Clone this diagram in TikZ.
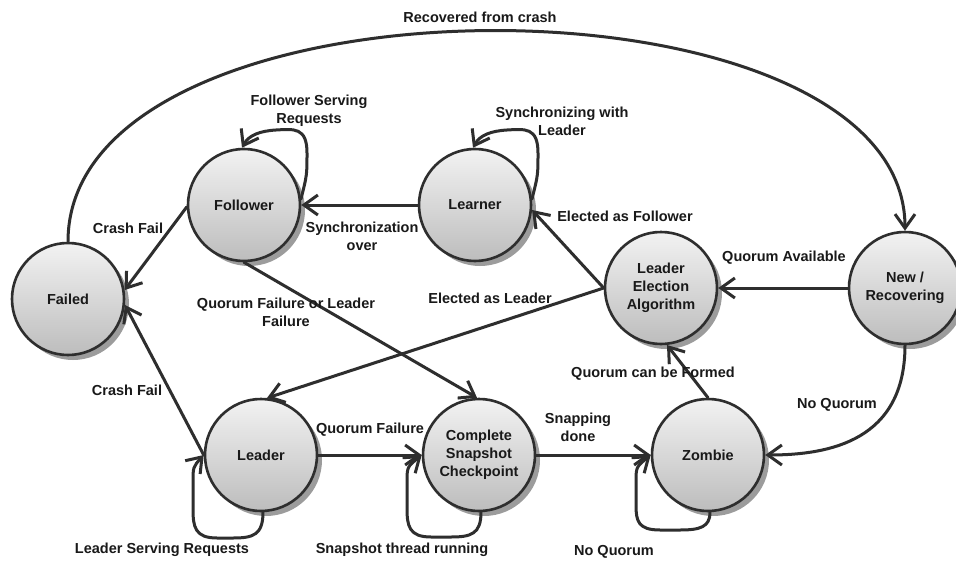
\documentclass[tikz,border=0pt]{standalone}
\usepackage{fontspec}
\setmainfont{Liberation Sans}
\usetikzlibrary{arrows.meta,shadows,calc}
\definecolor{ink}{HTML}{2E2E2E}
\definecolor{shadowgrey}{HTML}{9C9C9C}
\newcommand\diagfont{\fontsize{14.5}{18}\selectfont\bfseries}
\begin{document}
\begin{tikzpicture}[x=1pt,y=-1pt,
  state/.style={circle, minimum size=112pt, inner sep=0pt, draw=ink,
    line width=2.6pt, top color=black!5, bottom color=black!26,
    drop shadow={shadow xshift=5pt, shadow yshift=-5pt, fill=shadowgrey, opacity=1},
    align=center, font=\diagfont, text=black!90},
  link/.style={draw=ink, line width=3pt, line cap=round,
    -{Straight Barb[length=14pt,width=20pt]}},
  tag/.style={font=\diagfont, text=black!90, align=center, inner sep=0pt}]

  \useasboundingbox (0,0) rectangle (956,562);
  \fill[white] (0,0) rectangle (956,562);

  % states
  \node[state] (failed)   at (68,299)  {Failed};
  \node[state] (follower) at (244,205) {Follower};
  \node[state] (learner)  at (475,205) {Learner};
  \node[state] (elect)    at (661,288) {Leader\\Election\\Algorithm};
  \node[state] (newrec)   at (905,288) {New /\\Recovering};
  \node[state] (leader)   at (261,455) {Leader};
  \node[state] (snap)     at (479,455) {Complete\\Snapshot\\Checkpoint};
  \node[state] (zombie)   at (708,455) {Zombie};

  % transitions
  \draw[link] (failed.north) .. controls +(0,-279) and +(0,-268) .. (newrec.north);
  \draw[link] (follower.182) -- (failed.9);
  \draw[link] (leader.180) -- (failed.-6);
  \draw[link] (learner.west) -- (follower.east);
  \draw[link] (follower.south) -- (snap.92);
  \draw[link] (elect.180) -- (learner.-5);
  \draw[link] (elect.180) -- (leader.84);
  \draw[link] (newrec.west) -- (elect.east);
  \draw[link] (newrec.south) .. controls +(0,95) and +(65,0) .. (zombie.east);
  \draw[link] (zombie.north) -- (elect.-84);
  \draw[link] (leader.east) -- (snap.west);
  \draw[link] (snap.east) -- (zombie.west);

  % self loops
  \draw[link, shift={(follower.center)}] (follower.6)
    .. controls (63,-30) .. (63,-52)
    .. controls (63,-78) and (50,-76) .. (32,-75)
    .. controls (16,-74) and (5,-70) .. (follower.92);
  \draw[link, shift={(learner.center)}] (learner.6)
    .. controls (63,-30) .. (63,-52)
    .. controls (63,-78) and (50,-76) .. (32,-75)
    .. controls (16,-74) and (5,-70) .. (learner.92);
  \draw[link, shift={(leader.center)}] (leader.-88)
    .. controls (2,80) and (-8,83) .. (-28,83) -- (-44,83)
    .. controls (-66,83) and (-68,72) .. (-68,54) -- (-68,28)
    .. controls (-68,12) .. (leader.west);
  \draw[link, shift={(snap.center)}] (snap.-88)
    .. controls (2,79) and (-8,82) .. (-28,82) -- (-48,82)
    .. controls (-70,82) and (-72,71) .. (-72,53) -- (-72,28)
    .. controls (-72,12) .. (snap.west);
  \draw[link, shift={(zombie.center)}] (zombie.-88)
    .. controls (2,72) and (-8,75) .. (-28,75) -- (-48,75)
    .. controls (-70,75) and (-72,66) .. (-72,50) -- (-72,28)
    .. controls (-72,12) .. (zombie.west);

  % transition labels
  \node[tag] (tRecovered) at (480,17)  {Recovered from crash};
  \node[tag] (tCrashA)    at (128,228) {Crash Fail};
  \node[tag] (tCrashB)    at (127,390) {Crash Fail};
  \node[tag] (tFollowSrv) at (309,111) {Follower Serving\\Requests};
  \node[tag] (tSyncWith)  at (562,121) {Synchronizing with\\Leader};
  \node[tag] (tSyncOver)  at (362,236) {Synchronization\\over};
  \node[tag] (tQuorumFL)  at (286,312) {Quorum Failure or Leader\\Failure};
  \node[tag] (tElectF)    at (625,216) {Elected as Follower};
  \node[tag] (tElectL)    at (490,298) {Elected as Leader};
  \node[tag] (tAvail)     at (784,258) {Quorum Available};
  \node[tag] (tFormed)    at (653,374) {Quorum can be Formed};
  \node[tag] (tNoQA)      at (837,405) {No Quorum};
  \node[tag] (tQFail)     at (370,430) {Quorum Failure};
  \node[tag] (tSnapDone)  at (578,427) {Snapping\\done};
  \node[tag] (tLeadSrv)   at (162,550) {Leader Serving Requests};
  \node[tag] (tThread)    at (402,550) {Snapshot thread running};
  \node[tag] (tNoQB)      at (614,552) {No Quorum};
\end{tikzpicture}
\end{document}
